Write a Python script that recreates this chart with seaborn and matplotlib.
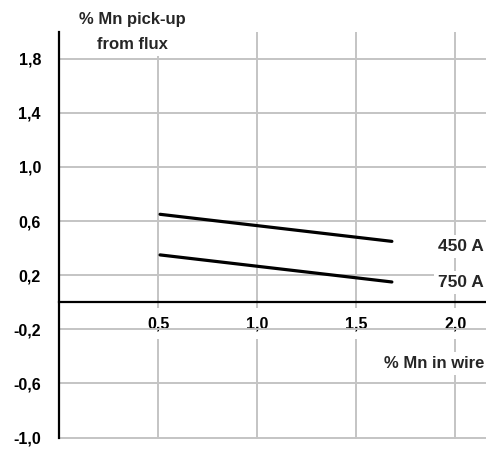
import pandas as pd
import matplotlib
matplotlib.use("Agg")
import matplotlib.pyplot as plt
import seaborn as sns

mn_wire = [0.51, 1.68]
pickup_450 = [0.65, 0.45]
pickup_750 = [0.35, 0.15]
currents = ["450 A", "750 A"]
yticks = [-1.0, -0.6, -0.2, 0.2, 0.6, 1.0, 1.4, 1.8]
xticks = [0.5, 1.0, 1.5, 2.0]

df = pd.DataFrame({
    "wire": mn_wire * 2,
    "pickup": pickup_450 + pickup_750,
    "current": [currents[0]] * 2 + [currents[1]] * 2,
})

sns.set_style("white")
plt.rcParams["font.family"] = ["Liberation Sans", "DejaVu Sans"]

fig = plt.figure(figsize=(4.86, 4.49), dpi=100)
ax = fig.add_axes([0.1214, 0.0223, 0.8786, 0.9074])

sns.lineplot(data=df, x="wire", y="pickup", hue="current",
             palette=["black", "black"], linewidth=2.3, legend=False, ax=ax)

# spine position first, it resets the ticks
for s in ["top", "right"]:
    ax.spines[s].set_visible(False)
ax.spines["left"].set_color("black")
ax.spines["left"].set_linewidth(1.6)
ax.spines["bottom"].set_position(("data", 0))
ax.spines["bottom"].set_color("black")
ax.spines["bottom"].set_linewidth(1.6)

ax.set_xlim(0, 2.155)
ax.set_ylim(-1.01, 2.0)
ax.spines["left"].set_bounds(-1.0, 2.0)
ax.set_xticks(xticks)
ax.set_yticks(yticks)
ax.set_xticklabels([f"{v:.1f}".replace(".", ",") for v in xticks],
                   fontweight="bold", fontsize=11.5)
ax.set_yticklabels([f"{v:.1f}".replace(".", ",") for v in yticks],
                   fontweight="bold", fontsize=11.5)
ax.grid(True, color="#c4c4c4", linewidth=1.4)
ax.set_axisbelow(True)

ax.tick_params(axis="y", direction="out", length=3, width=1.6, pad=10,
               colors="black")
ax.tick_params(axis="x", direction="out", length=3, width=1.6, pad=7,
               colors="black")
for lab in ax.get_xticklabels():
    lab.set_bbox(dict(facecolor="white", edgecolor="none", pad=6))

ax.set_xlabel("")
ax.set_ylabel("")

box = dict(facecolor="white", edgecolor="none", pad=3)
ax.text(0.37, 1.995, "% Mn pick-up\nfrom flux", ha="center", va="center",
        fontsize=12, fontweight="bold", linespacing=1.8, bbox=box)
ax.text(2.145, 0.41, currents[0], ha="right", va="center",
        fontsize=12.5, fontweight="bold", bbox=box)
ax.text(2.145, 0.145, currents[1], ha="right", va="center",
        fontsize=12.5, fontweight="bold", bbox=box)
ax.text(2.145, -0.45, "% Mn in wire", ha="right", va="center",
        fontsize=12, fontweight="bold", bbox=box)

fig.savefig("out.png", dpi=100)
